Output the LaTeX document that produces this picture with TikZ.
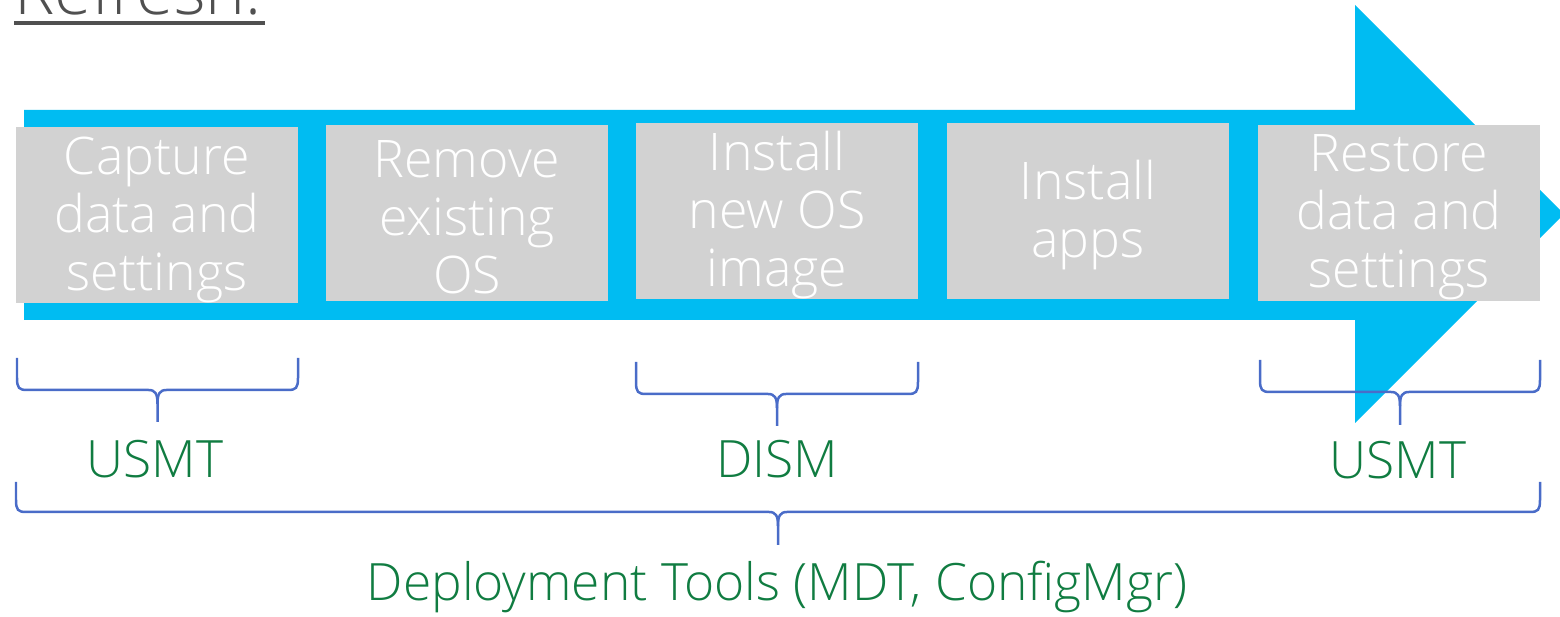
\documentclass[tikz,border=0pt]{standalone}
\usepackage{fontspec}
\setmainfont{Open Sans Light}
\usepackage{tikz}
\definecolor{flowblue}{HTML}{00BCF2}
\definecolor{boxgray}{HTML}{D2D2D2}
\definecolor{toolgreen}{HTML}{107C41}
\definecolor{braceblue}{HTML}{4A6CC8}
\definecolor{titlegray}{HTML}{505050}
\tikzstyle{stepbox}=[fill=boxgray,minimum width=5.64cm,minimum height=3.54cm,inner sep=0pt]
\tikzstyle{steptext}=[text=white,inner sep=0pt,align=center,yshift=-0.09cm,font=\fontsize{29.5}{33}\selectfont]
\tikzstyle{toollabel}=[text=toolgreen,anchor=base,inner sep=0pt,font=\fontsize{29.3}{33}\selectfont]
\tikzstyle{bracel}=[draw=braceblue,line width=0.05cm]
% left, right, top, bar, tip
\newcommand{\toolbrace}[5]{%
  \draw[bracel] (#1,#3) -- (#1,#4-12) .. controls (#1,#4-2) and (#1+2,#4) .. (#1+10,#4)
    -- ({(#1+#2)/2-9},#4) .. controls ({(#1+#2)/2-2},#4) and ({(#1+#2)/2},#4+4) .. ({(#1+#2)/2},#4+14)
    -- ({(#1+#2)/2},#5);
  \draw[bracel] ({(#1+#2)/2},#4+14) .. controls ({(#1+#2)/2},#4+4) and ({(#1+#2)/2+2},#4) .. ({(#1+#2)/2+9},#4)
    -- (#2-10,#4) .. controls (#2-2,#4) and (#2,#4-2) .. (#2,#4-12) -- (#2,#3);
}

\begin{document}
\begin{tikzpicture}[x=0.02cm,y=-0.02cm]
    \useasboundingbox (0,0) rectangle (1560,617);
    \node[anchor=base west,inner sep=0pt,text=titlegray,font=\fontsize{38.5}{40}\selectfont] (refresh) at (14,15) {Refresh:};
    \draw[titlegray,line width=0.08cm] (14,23) -- (265,23);

    \fill[flowblue] (24,110) -- (1355,110) -- (1355,5) -- (1564,214) -- (1355,423) -- (1355,320) -- (24,320) -- cycle;

    \node[stepbox] (capture) at (157,215) {};
    \node[stepbox] (remove)  at (467,213) {};
    \node[stepbox] (image)   at (777,211) {};
    \node[stepbox] (apps)    at (1088,211) {};
    \node[stepbox] (restore) at (1399,213) {};
    \node[steptext] (capturet) at (capture) {Capture\\data and\\settings};
    \node[steptext] (removet)  at (remove)  {Remove\\existing\\OS};
    \node[steptext] (imaget)   at (image)   {Install\\new OS\\image};
    \node[steptext] (appst)    at (apps)    {Install\\apps};
    \node[steptext] (restoret) at (restore) {Restore\\data and\\settings};

    \toolbrace{17}{298}{358}{390}{422}
    \toolbrace{636}{918}{362}{394}{426}
    \toolbrace{1260}{1540}{360}{392}{425}
    \toolbrace{16}{1540}{482}{512}{545}

    \node[toollabel] (usmtA) at (155,478) {USMT};
    \node[toollabel] (dism)  at (777,478) {DISM};
    \node[toollabel] (usmtB) at (1398,479) {USMT};
    \node[toollabel] (tools) at (777,601) {Deployment Tools (MDT, ConfigMgr)};
\end{tikzpicture}
\end{document}
